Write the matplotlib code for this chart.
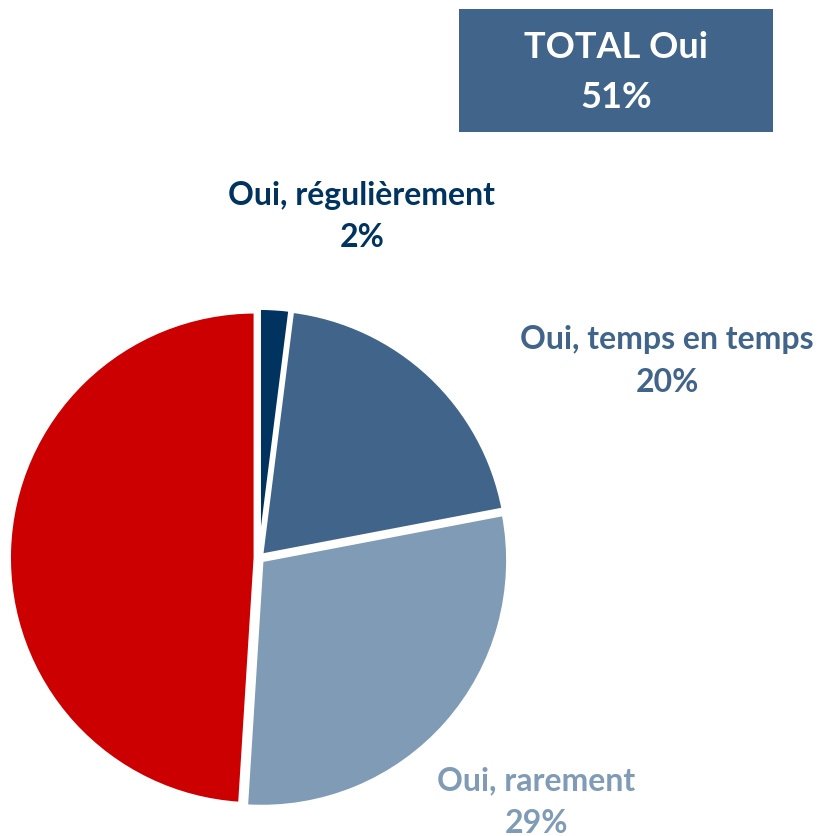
import matplotlib.pyplot as plt
from matplotlib.patches import Rectangle

plt.rcParams['font.family'] = ['Lato', 'DejaVu Sans']

# donnees
categories = ["Oui, régulièrement", "Oui, temps en temps", "Oui, rarement", "Non"]
valeurs = [2, 20, 29, 49]
couleurs = ["#00335F", "#41658A", "#7F9BB5", "#CC0000"]
total_oui = 51

W, H = 820, 837
fig = plt.figure(figsize=(W / 100, H / 100), dpi=100)

# camembert
ax = fig.add_axes([8 / W, (H - 810) / H, 502 / W, 502 / H])
ax.pie(valeurs, colors=couleurs, startangle=90, counterclock=False,
       explode=[0.015] * 4, radius=1,
       wedgeprops=dict(edgecolor="white", linewidth=2.5))
ax.set_xlim(-1.02, 1.02)
ax.set_ylim(-1.02, 1.02)
ax.set_aspect("equal")
ax.axis("off")

# etiquettes
def etiquette(x, y, nom, val, col):
    fig.text(x / W, 1 - y / H, nom, ha="center", va="center",
             fontsize=23, fontweight="bold", color=col)
    fig.text(x / W, 1 - (y + 43) / H, f"{val}%", ha="center", va="center",
             fontsize=23, fontweight="bold", color=col)

etiquette(362, 195, categories[0], valeurs[0], couleurs[0])
etiquette(667, 340, categories[1], valeurs[1], couleurs[1])
etiquette(536, 781, categories[2], valeurs[2], couleurs[2])

# encadre total
fig.patches.append(Rectangle((459 / W, 1 - 133 / H), 314 / W, 123 / H,
                             transform=fig.transFigure, facecolor="#41658A",
                             edgecolor="none"))
fig.text(616 / W, 1 - 48 / H, "TOTAL Oui", ha="center", va="center",
         fontsize=26, fontweight="bold", color="white")
fig.text(616 / W, 1 - 98 / H, f"{total_oui}%", ha="center", va="center",
         fontsize=26, fontweight="bold", color="white")

fig.savefig("out.png", dpi=100)
